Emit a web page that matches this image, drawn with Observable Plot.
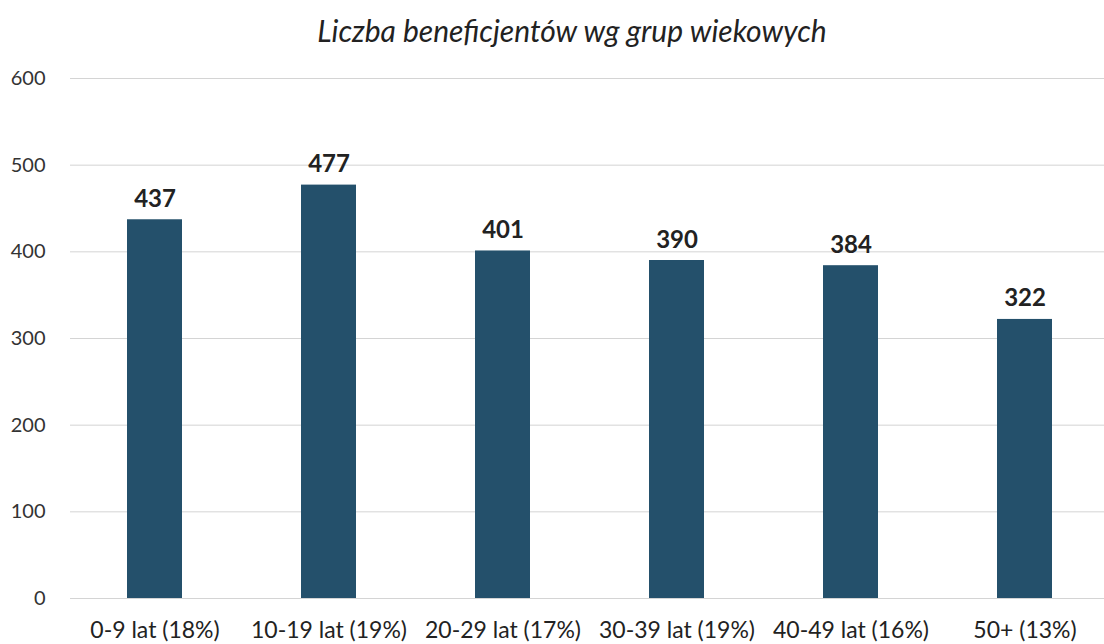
<!DOCTYPE html>
<html>
<head>
<meta charset="utf-8">
<script src="https://cdn.jsdelivr.net/npm/d3@7"></script>
<script src="https://cdn.jsdelivr.net/npm/@observablehq/plot@0.6"></script>
<style>
  body { margin: 0; background: #fff; font-family: Lato, sans-serif; }
  #title { height: 60px; box-sizing: border-box; padding-top: 15px; padding-left: 40px; text-align: center;
           font-family: Lato, sans-serif; font-style: italic; font-size: 30px; color: #222; line-height: 1; }
</style>
</head>
<body>
<div id="title">Liczba beneficjentów wg grup wiekowych</div>
<div id="chart"></div>
<script>
const categories = ["0-9 lat (18%)", "10-19 lat (19%)", "20-29 lat (17%)", "30-39 lat (19%)", "40-49 lat (16%)", "50+ (13%)"];
const values = [437, 477, 401, 390, 384, 322];
const yTicks = [0, 100, 200, 300, 400, 500, 600];

const data = categories.map((c, i) => ({category: c, value: values[i]}));

const chart = Plot.plot({
  width: 1104,
  height: 584,
  marginLeft: 70,
  marginRight: 0,
  marginTop: 18,
  marginBottom: 46,
  style: {fontFamily: "Lato, sans-serif", background: "#fff"},
  x: {domain: categories, paddingInner: 0.686, paddingOuter: 0.2975, align: 0.52, label: null},
  y: {domain: [0, 600], ticks: yTicks, label: null},
  marks: [
    Plot.gridY(yTicks, {stroke: "#d4d4d4", strokeOpacity: 1, strokeWidth: 1}),
    Plot.barY(data, {x: "category", y: "value", fill: "#24506b"}),
    Plot.text(data, {x: "category", y: "value", text: d => String(d.value), lineAnchor: "bottom", dy: -13,
                     fontSize: 24, fontWeight: "bold", fill: "#222"}),
    Plot.axisY(yTicks, {tickSize: 0, tickPadding: 25, fontSize: 20, fill: "#333", textAnchor: "end"}),
    Plot.axisX({tickSize: 0, tickPadding: 23, fontSize: 23, fill: "#222"})
  ]
});
document.getElementById("chart").appendChild(chart);
</script>
</body>
</html>
